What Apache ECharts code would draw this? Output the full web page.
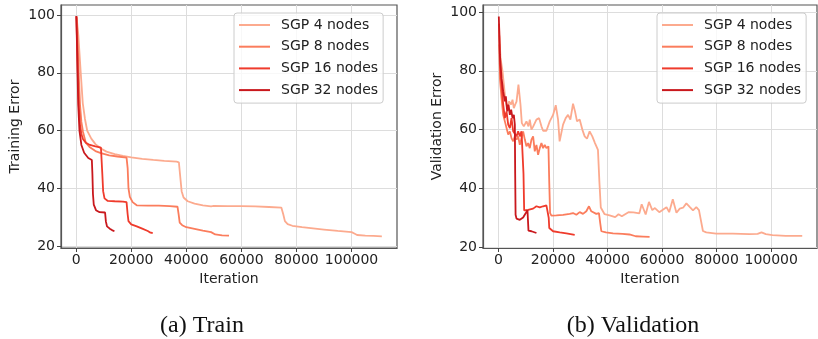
<!DOCTYPE html>
<html>
<head>
<meta charset="utf-8">
<script src="https://cdn.jsdelivr.net/npm/echarts@6/dist/echarts.min.js"></script>
<style>
  html, body { margin: 0; padding: 0; background: #ffffff; }
  #chart { width: 818px; height: 339px; }
</style>
</head>
<body>
<div id="chart"></div>
<script>
// tick labels
const xTicks = [0, 20000, 40000, 60000, 80000, 100000]
const yTicks = [20, 40, 60, 80, 100]
const seriesNames = ['SGP 4 nodes', 'SGP 8 nodes', 'SGP 16 nodes', 'SGP 32 nodes']
const seriesColors = ['#fcaa8e', '#fb7d5d', '#ef3b2c', '#c9181d']

// (a) Train: [iteration, training error]
const train4 = [[200, 99], [800, 93], [1600, 81], [2400, 69.5], [3200, 64], [4000, 60], [5500, 57.2], [7000, 55.3],
  [9000, 53.8], [11000, 52.7], [14000, 51.8], [17000, 51.2], [20000, 50.7], [24000, 50.2], [28000, 49.8],
  [32000, 49.5], [36500, 49.2], [37300, 49.0], [37800, 44], [38300, 39.0], [39000, 36.8], [40500, 35.5],
  [43000, 34.7], [46000, 34.1], [49000, 33.7], [50000, 33.9], [55000, 33.8], [60000, 33.8], [65000, 33.7],
  [70000, 33.5], [74500, 33.3], [75200, 31], [75800, 28.6], [76800, 27.6], [78500, 27.0], [82000, 26.5],
  [86000, 26.1], [90000, 25.7], [95000, 25.2], [100000, 24.8], [101000, 24.3], [102000, 23.8], [105000, 23.6],
  [108000, 23.5], [111000, 23.3]]
const train8 = [[200, 99.5], [600, 90], [1000, 78], [1400, 69], [1900, 63], [2500, 59.5], [3500, 55.8], [5000, 54.2],
  [7000, 52.9], [9000, 52.2], [12000, 51.4], [15000, 51.0], [18300, 50.6], [18700, 47], [19000, 40], [19500, 37],
  [20500, 35.2], [22000, 34.1], [26000, 34.0], [30000, 34.0], [34000, 33.8], [36800, 33.6], [37200, 31],
  [37600, 28.1], [38500, 27.2], [40000, 26.5], [43000, 25.9], [46000, 25.3], [49000, 24.8], [50500, 24.0],
  [53000, 23.7], [55500, 23.6]]
const train16 = [[100, 99.5], [400, 88], [700, 76], [1000, 68], [1400, 62], [1900, 58.8], [2500, 57], [3500, 55.8],
  [5000, 55], [7000, 54.5], [9000, 54.1], [9300, 53.5], [9500, 45], [9800, 39], [10300, 36.5], [11500, 35.6],
  [14000, 35.5], [17000, 35.4], [18300, 35.2], [18700, 31], [19000, 28.6], [20000, 27.5], [22000, 26.8],
  [24000, 26.0], [26000, 25.2], [27000, 24.6], [27800, 24.5]]
const train32 = [[50, 99.7], [300, 90], [500, 80.5], [750, 69], [1200, 60], [1900, 55], [2900, 52.3], [4400, 50.5],
  [5700, 49.8], [5900, 45], [6100, 38], [6400, 34.3], [7200, 32.4], [8500, 31.7], [10500, 31.6], [10800, 28.5],
  [11200, 26.8], [12200, 26], [13000, 25.5], [13900, 25.1]]

// (b) Validation: [iteration, validation error]
const val4 = [[300, 92], [730, 84.3], [1460, 79.8], [1950, 75.3], [2440, 70.7], [3170, 67.3], [3900, 69.6], [4630, 68.5],
  [5120, 70.2], [5610, 67.3], [6100, 68.5], [6590, 69.5], [7300, 75.3], [8050, 68.5], [8540, 62.2], [9270, 61.1],
  [10240, 62.8], [10980, 61.1], [11460, 63.4], [12070, 60], [12680, 61], [13900, 63.4], [14880, 63.9],
  [15730, 61.1], [16340, 59.6], [17560, 59.6], [18780, 62.8], [20000, 65], [20980, 68.3], [21830, 63.4],
  [22400, 56], [23660, 61.7], [24630, 63.9], [25490, 65], [26340, 63.4], [27320, 68.8], [28050, 66.2],
  [28780, 62.8], [29760, 63.4], [30730, 60], [31590, 57.7], [32440, 56.9], [33410, 59.4], [34390, 57.7],
  [35370, 55.4], [36460, 53.1], [37000, 42], [37500, 33.5], [38900, 31.2], [40730, 30.8], [42790, 30.2],
  [44000, 31.2], [45220, 30.5], [47650, 31.9], [49470, 31.8], [51650, 31.5], [52500, 34.6], [53960, 31.1],
  [55170, 35.4], [56390, 32.6], [57360, 33.3], [58940, 31.9], [60400, 32.8], [61610, 33.6], [62580, 31.9],
  [63910, 36.3], [65250, 31.7], [66460, 33.1], [67680, 33.4], [68890, 34.9], [70100, 33.7], [71320, 32.5],
  [72530, 33.6], [73510, 32.6], [74960, 25.5], [76180, 25.0], [79820, 24.6], [85890, 24.6], [91960, 24.4],
  [95000, 24.5], [96450, 25.0], [98030, 24.4], [100460, 24.1], [105300, 23.8], [111380, 23.8]]
const val8 = [[300, 89], [490, 77.5], [1100, 70.7], [1710, 65], [2320, 62.8], [2930, 63.4], [3540, 58.3], [4150, 59.4],
  [4750, 57.1], [5370, 56], [5980, 57.7], [6590, 56.6], [7200, 57.7], [7800, 54.8], [8420, 57.1], [9020, 59.4],
  [9640, 56.6], [10240, 54.3], [10860, 55.4], [11460, 53.7], [12070, 56.6], [12680, 57.7], [13290, 52.6],
  [13900, 54.8], [14510, 51.4], [15120, 53.7], [15730, 55.4], [16340, 53.7], [16950, 54.8], [17560, 53.7],
  [18300, 54.3], [18600, 42], [18900, 31.6], [19390, 30.7], [21220, 30.8], [23660, 31], [26100, 31.3],
  [27320, 31.6], [28540, 31], [29760, 31.9], [30980, 31.3], [32190, 32.2], [33170, 33.9], [34020, 32.2],
  [35850, 31.3], [36830, 31.6], [37320, 28], [37700, 25.4], [39400, 25.0], [42000, 24.7], [45450, 24.5],
  [48000, 24.3], [50300, 23.7], [53000, 23.6], [55400, 23.5]]
const val16 = [[200, 96], [490, 82], [1100, 75.3], [1710, 68.5], [2320, 63.9], [2930, 66.2], [3540, 61.7], [4150, 60.5],
  [4750, 63.9], [5370, 59.4], [5980, 60], [6590, 57.7], [7200, 59.4], [7800, 57.7], [8420, 59.4], [8780, 58.8],
  [9150, 45], [9400, 32.5], [9640, 32.0], [10860, 32.7], [12680, 33.1], [13900, 33.9], [14510, 34.4],
  [15120, 33.5], [16340, 33.9], [17560, 34.2], [18170, 34.7], [18400, 30], [18600, 26.5], [20000, 25.4],
  [22440, 25], [24880, 24.7], [27930, 24.2]]
const val32 = [[100, 98.5], [490, 85.5], [1100, 77.5], [1710, 73], [2320, 69.6], [2680, 71.3], [3170, 66.2],
  [3660, 68.5], [4150, 65], [4630, 66.8], [5120, 63.9], [5610, 65], [5980, 61.7], [6100, 45], [6250, 31],
  [6590, 29.7], [7800, 29.3], [9020, 30.1], [10000, 31.6], [10610, 32.6], [10800, 29], [10980, 25.6],
  [12070, 25.4], [13900, 24.8]]

const trainData = [train4, train8, train16, train32]
const valData = [val4, val8, val16, val32]

const font = 'DejaVu Sans'
const textColor = '#222222'

const makeXAxis = (gridIndex, min, max) => ({
  gridIndex,
  type: 'value',
  min,
  max,
  name: 'Iteration',
  nameLocation: 'middle',
  nameGap: 22,
  nameTextStyle: { fontFamily: font, fontSize: 14, color: textColor },
  axisLine: { show: true, onZero: false, lineStyle: { color: '#555555', width: 1.2 } },
  axisTick: { show: true, customValues: xTicks, length: 4, lineStyle: { color: '#444444', width: 1 } },
  axisLabel: { customValues: xTicks, margin: 5, fontFamily: font, fontSize: 14, color: textColor, formatter: (v) => String(v) },
  splitLine: { show: true, lineStyle: { color: '#dddddd', width: 1 } },
})

const makeYAxis = (gridIndex, min, max, name) => ({
  gridIndex,
  type: 'value',
  min,
  max,
  name,
  nameLocation: 'middle',
  nameGap: 39,
  nameTextStyle: { fontFamily: font, fontSize: 14, color: textColor },
  axisLine: { show: true, onZero: false, lineStyle: { color: '#555555', width: 1.2 } },
  axisTick: { show: true, customValues: yTicks, length: 4, lineStyle: { color: '#444444', width: 1 } },
  axisLabel: { customValues: yTicks, margin: 6, fontFamily: font, fontSize: 14, color: textColor, formatter: (v) => String(v) },
  splitLine: { show: true, lineStyle: { color: '#dddddd', width: 1 } },
})

const makeLegend = (left) => ({
  data: seriesNames,
  orient: 'vertical',
  left,
  top: 13,
  padding: [5, 5, 6, 5],
  icon: 'rect',
  itemWidth: 31,
  itemHeight: 2,
  itemGap: 7.7,
  backgroundColor: 'rgba(255,255,255,0.8)',
  borderColor: '#cccccc',
  borderWidth: 1,
  borderRadius: 3,
  textStyle: { fontFamily: font, fontSize: 14, color: textColor, lineHeight: 14, padding: [0, 0, 0, 6] },
})

const makeSeries = (data, idx, axisIndex) => ({
  name: seriesNames[idx],
  type: 'line',
  xAxisIndex: axisIndex,
  yAxisIndex: axisIndex,
  data,
  showSymbol: false,
  symbol: 'none',
  color: seriesColors[idx],
  lineStyle: { color: seriesColors[idx], width: 1.8 },
})

const chart = echarts.init(document.getElementById('chart'))
chart.setOption({
  animation: false,
  backgroundColor: '#ffffff',
  grid: [
    { left: 61, top: 5, width: 336, height: 243, show: true, borderColor: '#555555', borderWidth: 1.2 },
    { left: 483, top: 5, width: 334, height: 243, show: true, borderColor: '#555555', borderWidth: 1.2 },
  ],
  xAxis: [makeXAxis(0, -5500, 116500), makeXAxis(1, -5700, 116800)],
  yAxis: [makeYAxis(0, 19.3, 103.5, 'Training Error'), makeYAxis(1, 19.7, 102.4, 'Validation Error')],
  legend: [makeLegend(234), makeLegend(657)],
  series: [
    ...trainData.map((d, i) => makeSeries(d, i, 0)),
    ...valData.map((d, i) => makeSeries(d, i, 1)),
  ],
  graphic: [
    { type: 'text', style: { text: '(a) Train', x: 202, y: 326, font: '24px "Liberation Serif"', fill: '#111111', textAlign: 'center', textVerticalAlign: 'middle' } },
    { type: 'text', style: { text: '(b) Validation', x: 633, y: 326, font: '24px "Liberation Serif"', fill: '#111111', textAlign: 'center', textVerticalAlign: 'middle' } },
  ],
})
</script>
</body>
</html>
